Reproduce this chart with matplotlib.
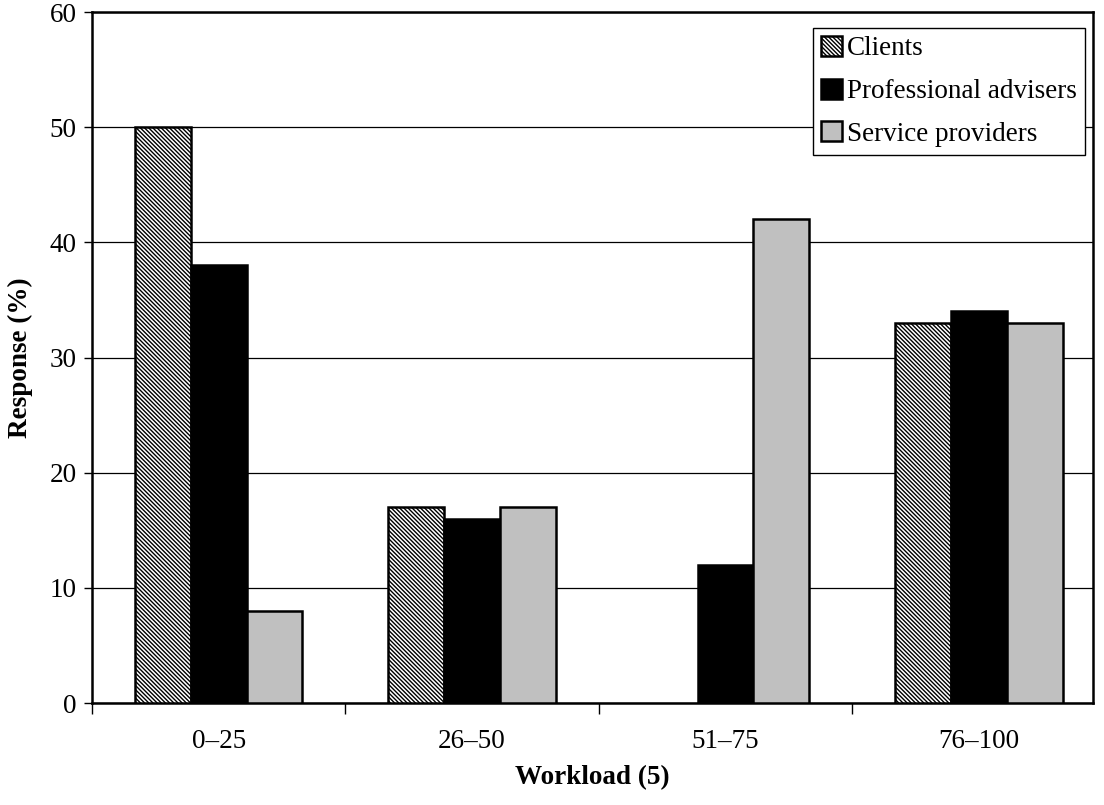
import numpy as np
import matplotlib.pyplot as plt

# 数据
categories = ['0–25', '26–50', '51–75', '76–100']
clients = [50, 17, 0, 33]
advisers = [38, 16, 12, 34]
providers = [8, 17, 42, 33]

plt.rcParams['font.family'] = ['Liberation Serif', 'DejaVu Serif']
plt.rcParams['hatch.linewidth'] = 1.0

fig = plt.figure(figsize=(11.04, 8.05), dpi=100)
ax = fig.add_axes([0.0833, 0.1267, 0.9067, 0.8583])

x = np.arange(len(categories))
w = 0.22
b1 = ax.bar(x - w, clients, w, color='white', edgecolor='black', hatch='\\' * 8, linewidth=1.8,
            label='Clients', zorder=3)
b2 = ax.bar(x, advisers, w, color='black', edgecolor='black', linewidth=1.8,
            label='Professional advisers', zorder=3)
b3 = ax.bar(x + w, providers, w, color='#c0c0c0', edgecolor='black', linewidth=1.8,
            label='Service providers', zorder=3)
# 零值柱不画
for bars in (b1, b2, b3):
    for p in bars:
        if p.get_height() == 0:
            p.set_visible(False)

ax.set_xlim(-0.5, 3.45)
ax.set_ylim(0, 60)
ax.set_yticks(range(0, 61, 10))
ax.yaxis.grid(True, color='black', linewidth=0.9)
ax.set_axisbelow(True)

# x 轴刻度放在分组边界
ax.set_xticks(x)
ax.set_xticklabels(categories)
ax.set_xticks(np.arange(-0.5, 3.6, 1.0)[:4], minor=True)
ax.tick_params(axis='x', which='major', length=0, pad=19, labelsize=19.5)
ax.tick_params(axis='x', which='minor', length=8, width=1, direction='out')
ax.tick_params(axis='y', length=6, width=1, direction='out', pad=5, labelsize=19.5)

for s in ax.spines.values():
    s.set_linewidth(1.8)

ax.set_xlabel('Workload (5)', fontsize=19.5, fontweight='bold', labelpad=8)
ax.set_ylabel('Response (%)', fontsize=19.5, fontweight='bold', labelpad=12)

leg = ax.legend(loc='upper right', bbox_to_anchor=(0.992, 0.977), fontsize=19.5,
                fancybox=False, framealpha=1, edgecolor='black',
                handlelength=0.75, handleheight=0.75, handletextpad=0.2,
                borderpad=0.3, labelspacing=0.64, borderaxespad=0)
leg.get_frame().set_linewidth(1.0)

fig.savefig('out.png', dpi=100)
